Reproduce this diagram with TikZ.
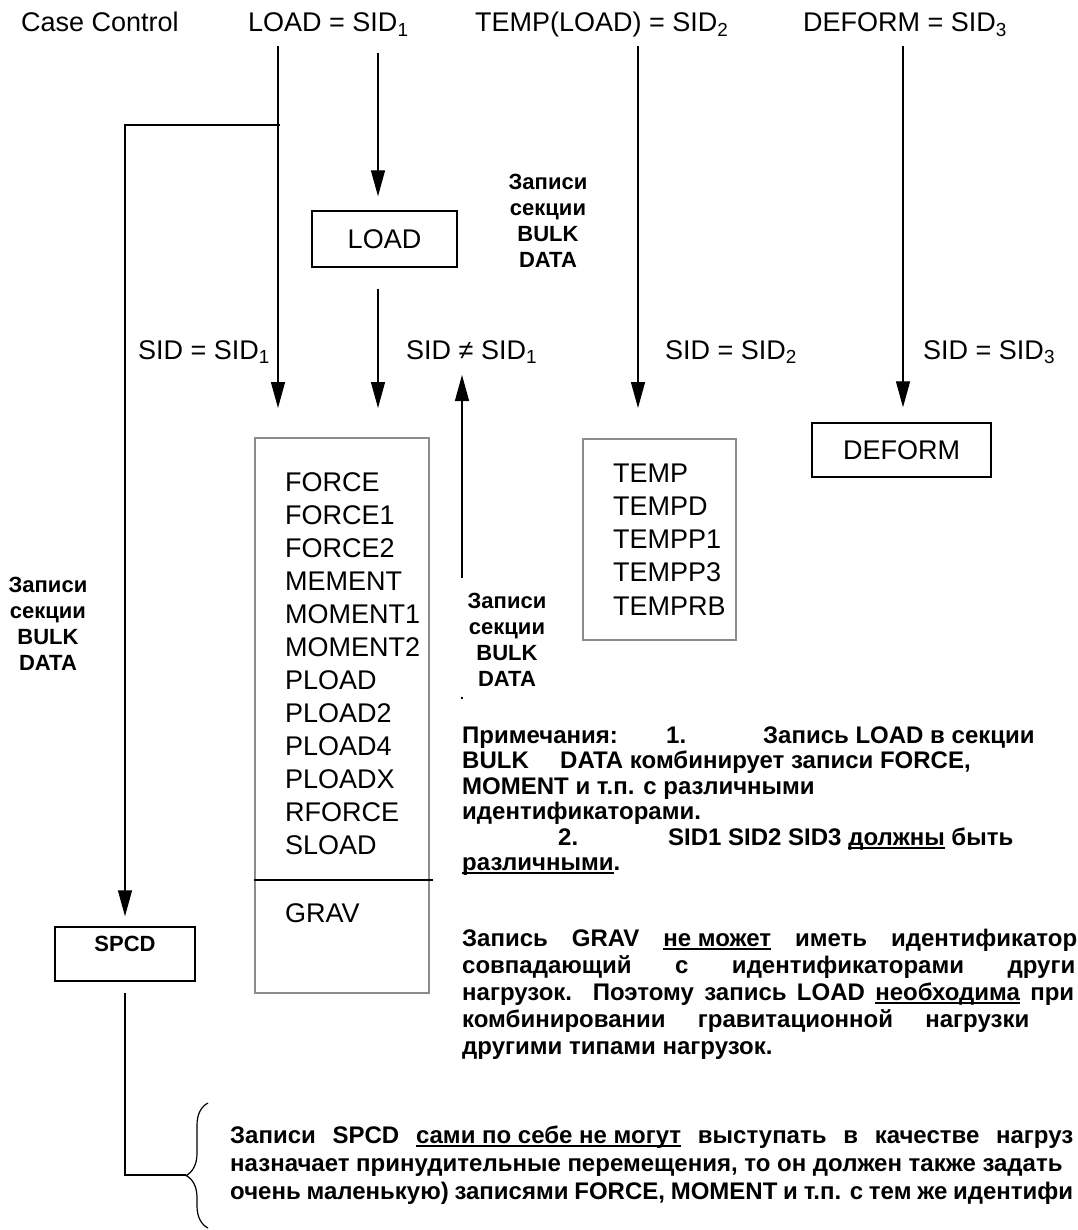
\documentclass[tikz,border=0pt]{standalone}
\usepackage{fontspec}
\setmainfont{Liberation Sans}
\usetikzlibrary{arrows.meta,positioning,decorations.pathreplacing}

\newcommand{\undl}[1]{\setbox0=\hbox{#1}\rlap{\rule[-3.5pt]{\wd0}{1.8pt}}\box0\relax}

\begin{document}
\begin{tikzpicture}[
  x=1pt,y=-1pt,
  font=\fontsize{27}{32}\selectfont,
  lbl/.style={anchor=base west,inner sep=0pt},
  box/.style={draw,line width=1.4pt,inner sep=0pt},
  listbox/.style={draw=black!45,line width=1.4pt,inner sep=0pt},
  item/.style={anchor=west,inner sep=0pt},
  bulk/.style={font=\fontsize{22}{26}\selectfont\bfseries,align=center,inner sep=0pt},
  note/.style={font=\fontsize{24}{27}\selectfont\bfseries,anchor=base west,inner sep=0pt},
  ln/.style={line width=1.3pt},
  arr/.style={ln,-{Triangle[length=26pt,width=14pt]}}
]
\useasboundingbox (0,0) rectangle (1077,1230);
\clip (0,0) rectangle (1077,1230);

% Case Control
\node[lbl] (cc) at (21,32) {Case Control};
\node[lbl] (cload) at (248,32) {LOAD = SID\textsubscript{1}};
\node[lbl] (ctemp) at (475,32) {TEMP(LOAD) = SID\textsubscript{2}};
\node[lbl] (cdef) at (803,32) {DEFORM = SID\textsubscript{3}};

% Bulk Data cards
\node[box,minimum width=145pt,minimum height=56pt] (loadbox) at (384.5,239) {LOAD};
\node[listbox,minimum width=174pt,minimum height=555pt] (lbox) at (342,715.5) {};
\node[listbox,minimum width=153pt,minimum height=201pt] (tbox) at (659.5,539.5) {};
\node[box,minimum width=179pt,minimum height=54pt] (dbox) at (901.5,450) {DEFORM};
\node[box,minimum width=140pt,minimum height=54pt] (spcd) at (125,954) {};
\node[bulk,below=10pt of spcd.north] (spcdtxt) {SPCD};

\foreach \card [count=\i] in {FORCE,FORCE1,FORCE2,MEMENT,MOMENT1,MOMENT2,PLOAD,PLOAD2,PLOAD4,PLOADX,RFORCE,SLOAD}
  \node[item] (f\i) at (285,{482+33*(\i-1)}) {\card};
\node[item] (grav) at (285,913) {GRAV};
\coordinate (dv) at (433,880);
\draw[ln] (lbox.west |- dv) -- (dv);

\foreach \card [count=\i] in {TEMP,TEMPD,TEMPP1,TEMPP3,TEMPRB}
  \node[item] (t\i) at (613,{473+33.2*(\i-1)}) {\card};

% SID labels
\node[lbl] (sid1) at (138,359) {SID = SID\textsubscript{1}};
\node[lbl] (sidne) at (406,359) {SID ≠ SID\textsubscript{1}};
\node[lbl] (sid2) at (665,359) {SID = SID\textsubscript{2}};
\node[lbl] (sid3) at (923,359) {SID = SID\textsubscript{3}};

\node[bulk] (bd1) at (548,221) {Записи\\секции\\BULK\\DATA};
\node[bulk] (bd2) at (48,624) {Записи\\секции\\BULK\\DATA};
\node[bulk] (bd3) at (507,640) {Записи\\секции\\BULK\\DATA};
\node[font=\fontsize{14}{16}\selectfont\bfseries,inner sep=0pt] (dot) at (462,698) {.};

% arrows
\coordinate (a0) at (278,46);
\coordinate (a1) at (278,408);
\coordinate (b0) at (378,53);
\coordinate (c0) at (638,46);
\coordinate (d0) at (903,46);
\coordinate (e0) at (280,125);
\coordinate (u0) at (462,578);
\coordinate (u1) at (462,375);
\coordinate (brtip) at (186,1175);
\draw[arr] (a0) -- (a1);
\draw[arr,shorten >=14pt] (b0) -- (b0 |- loadbox.north);
\draw[arr,shorten <=21pt] (b0 |- loadbox.south) -- (b0 |- a1);
\draw[arr] (c0) -- (c0 |- a1);
\draw[arr,shorten >=15pt] (d0) -- (d0 |- dbox.north);
\draw[arr] (u0) -- (u1);
\draw[arr,shorten >=10pt] (e0) -| (spcd.north);
\draw[ln,shorten <=11pt] (spcd.south) |- (brtip);
\draw[line width=1.2pt,decorate,decoration={brace,amplitude=22pt,aspect=0.42}] (208,1228) -- (208,1103);

% notes
\node[note] (n1) at (462,743) {\makebox[204pt][l]{Примечания:}\makebox[97pt][l]{1.}Запись LOAD в секции};
\node[note] (n2) at (462,768.5) {\makebox[98pt][l]{BULK}DATA комбинирует записи FORCE,};
\node[note] (n3) at (462,794) {MOMENT и т.п. с различными};
\node[note] (n4) at (462,819.5) {идентификаторами.};
\node[note] (n5) at (462,845) {\hspace*{96pt}\makebox[110pt][l]{2.}SID1 SID2 SID3 \undl{должны} быть};
\node[note] (n6) at (462,870.5) {\undl{различными}.};

\node[note] (g1) at (462,946) {\makebox[615pt][s]{Запись GRAV \undl{не может} иметь идентификатор}};
\node[note] (g2) at (462,973) {\makebox[613pt][s]{совпадающий с идентификаторами други}};
\node[note] (g3) at (462,1000) {\makebox[612pt][s]{нагрузок.\ \ Поэтому запись LOAD \undl{необходима} при}};
\node[note] (g4) at (462,1027) {\makebox[567pt][s]{комбинировании гравитационной нагрузки}};
\node[note] (g5) at (462,1054) {другими типами нагрузок.};

\node[note] (s1) at (230,1143) {\makebox[843pt][s]{Записи SPCD \undl{сами по себе не могут} выступать в качестве нагруз}};
\node[note] (s2) at (230,1171) {назначает принудительные перемещения, то он должен также задать};
\node[note] (s3) at (230,1199) {\makebox[843pt][s]{очень маленькую) записями FORCE, MOMENT и т.п. с тем же идентифи}};
\end{tikzpicture}
\end{document}
